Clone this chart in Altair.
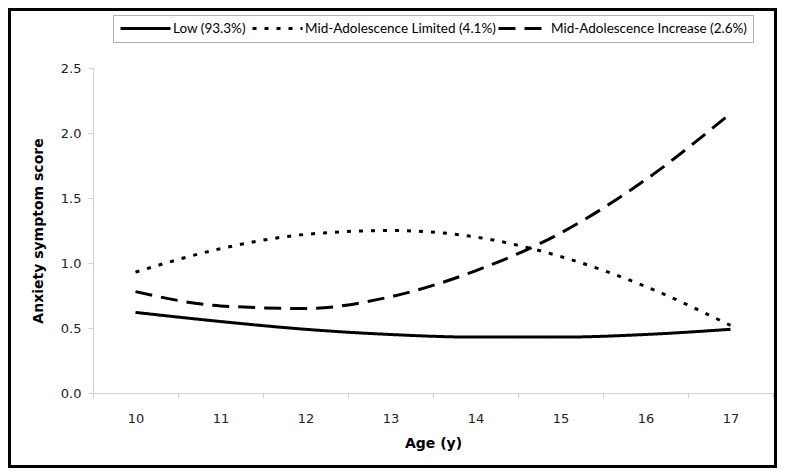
import altair as alt
import pandas as pd

ages = [10, 11, 12, 13, 14, 15, 16, 17]
low = [0.62, 0.55, 0.49, 0.45, 0.43, 0.43, 0.45, 0.49]
limited = [0.93, 1.11, 1.22, 1.25, 1.20, 1.05, 0.82, 0.52]
increase = [0.78, 0.67, 0.65, 0.74, 0.94, 1.23, 1.64, 2.15]
series_names = ["Low  (93.3%)", "Mid-Adolescence Limited (4.1%)", "Mid-Adolescence Increase (2.6%)"]
y_ticks = [0.0, 0.5, 1.0, 1.5, 2.0, 2.5]

rows = []
for name, vals in zip(series_names, [low, limited, increase]):
    for a, v in zip(ages, vals):
        rows.append({"age": a, "score": v, "group": name})
df = pd.DataFrame(rows)

W, H = 680, 325
PL, PT, PR, PB = 85, 60, 4, 75

lines = alt.Chart(df).mark_line(color="black", strokeWidth=3, interpolate="monotone").encode(
    x=alt.X("age:O", bandPosition=0.5,
            scale=alt.Scale(type="band", paddingInner=0, paddingOuter=0),
            axis=alt.Axis(title="Age (y)", labelAngle=0, tickBand="extent",
                          tickSize=5, labelPadding=14, titlePadding=11)),
    y=alt.Y("score:Q", scale=alt.Scale(domain=[0, 2.5], nice=False),
            axis=alt.Axis(title="Anxiety  symptom score", values=y_ticks, format=".1f",
                          tickSize=5, labelPadding=7, titlePadding=15, grid=False)),
    strokeDash=alt.StrokeDash("group:N",
        scale=alt.Scale(domain=series_names, range=[[1, 0], [4, 8], [17, 9]]),
        legend=alt.Legend(title=None, orient="none", legendX=20, legendY=-53,
                          direction="horizontal", symbolType="stroke",
                          symbolSize=2500, symbolStrokeWidth=3, symbolStrokeColor="black",
                          clipHeight=15,
                          labelFont="Lato", labelFontSize=13.5, labelColor="black",
                          strokeColor="#b0b0b0", padding=6, columnPadding=1,
                          labelOffset=1, labelLimit=400)),
)

frame = alt.Chart(alt.Data(values=[{"k": 1}])).mark_rect(
    fillOpacity=0, stroke="black", strokeWidth=3
).encode(
    x=alt.value(-PL + 1.5), x2=alt.value(W + PR - 1.5),
    y=alt.value(-PT + 1.5), y2=alt.value(H + PB - 1.5),
)

chart = alt.layer(lines, frame).properties(
    width=W, height=H,
    autosize=alt.AutoSizeParams(type="none"),
    padding={"left": PL, "top": PT, "right": PR, "bottom": PB},
).configure_view(stroke=None).configure_axis(
    labelFont="DejaVu Sans", labelFontSize=13, labelColor="#222",
    titleFont="DejaVu Sans", titleFontSize=14, titleFontWeight="bold", titleColor="black",
    domainColor="#d0d0d0", tickColor="#d0d0d0",
)

chart.save("out.html", embed_options={"renderer": "svg", "actions": False})
